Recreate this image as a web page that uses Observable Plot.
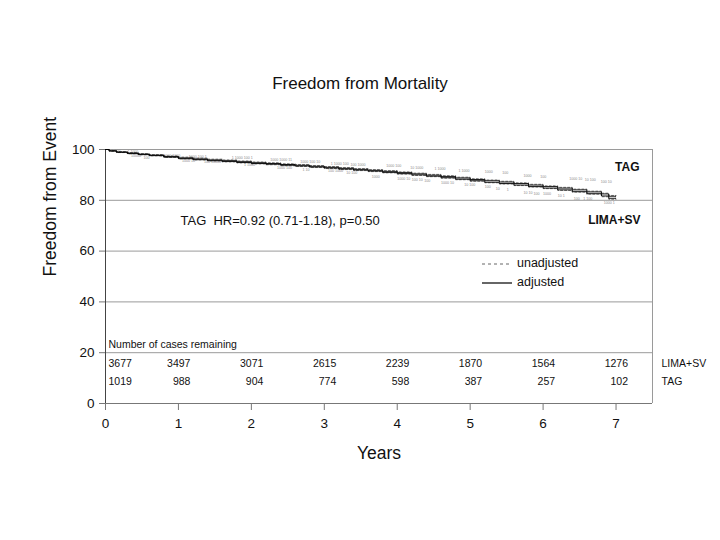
<!DOCTYPE html>
<html>
<head>
<meta charset="utf-8">
<script src="https://cdn.jsdelivr.net/npm/d3@7"></script>
<script src="https://cdn.jsdelivr.net/npm/@observablehq/plot@0.6"></script>
<style>
  html, body { margin: 0; padding: 0; background: #fff; }
  #wrap { position: relative; width: 720px; height: 540px; font-family: "Liberation Sans", Arial, sans-serif; }
  #legend { position: absolute; left: 482px; top: 254px; font-size: 12.5px; color: #111; line-height: 19px; }
  #legend div { display: flex; align-items: center; }
  #legend svg { margin-right: 5px; }
</style>
</head>
<body>
<div id="wrap"></div>
<script>
// ---- data ----
const times = [0,0.05,0.15,0.3,0.45,0.6,0.8,1.0,1.2,1.4,1.6,1.8,2.0,2.2,2.4,2.6,2.8,3.0,3.2,3.4,3.6,3.8,4.0,4.2,4.4,4.6,4.8,5.0,5.2,5.4,5.6,5.8,6.0,6.2,6.4,6.6,6.8,6.9,7.0];
const limaAdj   = [100,99.4,98.9,98.4,98.0,97.6,97.0,96.4,96.0,95.6,95.3,94.9,94.5,94.2,93.8,93.5,93.1,92.7,92.3,91.9,91.5,91.0,90.5,90.0,89.5,88.9,88.3,87.7,87.1,86.6,86.0,85.4,84.8,84.1,83.4,82.6,81.7,80.8,80.8];
const tagAdj    = [100,99.5,99.0,98.6,98.2,97.8,97.2,96.7,96.3,95.9,95.6,95.2,94.8,94.5,94.1,93.8,93.4,93.0,92.6,92.2,91.8,91.4,90.9,90.4,89.9,89.4,88.8,88.2,87.7,87.2,86.6,86.0,85.4,84.8,84.1,83.3,82.5,81.6,81.6];
const limaUnadj = [100,99.3,98.8,98.3,97.9,97.5,96.9,96.3,95.9,95.5,95.1,94.7,94.3,94.0,93.6,93.3,92.9,92.5,92.1,91.7,91.3,90.8,90.3,89.8,89.3,88.7,88.1,87.5,86.9,86.4,85.8,85.2,84.6,83.9,83.2,82.4,81.4,80.4,80.4];
const tagUnadj  = [100,99.6,99.2,98.8,98.4,98.0,97.5,97.0,96.6,96.2,95.9,95.5,95.1,94.8,94.4,94.1,93.7,93.3,92.9,92.5,92.1,91.7,91.2,90.7,90.2,89.7,89.1,88.5,88.0,87.5,86.9,86.3,85.7,85.1,84.4,83.6,82.8,81.9,81.9];

// censoring labels (tiny)
const cenUpperT = [0.08,0.3,0.75,1.14,1.73,2.26,2.67,3.09,3.36,3.85,4.18,4.51,4.84,5.2,5.44,5.73,5.96,6.36,6.57,6.79];
const cenUpperV = [99.5,98.9,97.6,97.2,96.9,96.1,95.3,94.5,94.1,93.7,92.9,92.5,91.7,91.3,90.9,89.8,89.4,88.6,88.2,87.4];
const cenUpperS = ["1 100","1 1000","1 1000 1000","1000 100 1","1 1000 100 1","1000 1000 11","1000 100 10","1 1000 100","100 1000","1000 100","10 1000","1 1000","1 1000","1000","100","1000","100","1000 10","10 100","100 10"];
const cenLowerT = [0.35,0.52,1.05,1.35,1.9,2.35,2.7,3.05,3.3,3.65,4.0,4.2,4.37,4.6,4.92,5.2,5.35,5.5,5.73,5.87,6.0,6.2,6.42,6.55,6.83];
const cenLowerV = [97.6,96.9,95.6,95.0,93.8,92.9,92.1,91.5,90.8,89.4,88.6,88.2,87.8,87.0,86.2,85.4,84.6,84.3,83.0,82.7,82.7,81.9,80.7,80.7,79.1];
const cenLowerS = ["10000","100","1000 10","100 10000","1 1000","1000 100","1 10","100 1000","10 100","1000","1000 10","100 10","100","1000 10","10 100","100","10","1","10 10","100","1000","10 1","100","1 100","1000 1"];

// numbers at risk
const riskYears = [0,1,2,3,4,5,6,7];
const riskLima  = ["3677","3497","3071","2615","2239","1870","1564","1276"];
const riskTag   = ["1019","988","904","774","598","387","257","102"];

const xTicks = [0,1,2,3,4,5,6,7];
const yTicks = [0,20,40,60,80,100];
const gridY  = [20,40,60,80,100];

// ---- build tables ----
const series = [];
[["LIMA+SV adjusted", limaAdj, "adj"], ["TAG adjusted", tagAdj, "adj"],
 ["LIMA+SV unadjusted", limaUnadj, "unadj"], ["TAG unadjusted", tagUnadj, "unadj"]]
  .forEach(([name, vals, kind]) => times.forEach((t, i) => series.push({name, kind, t, v: vals[i]})));
const cenUp = cenUpperT.map((t, i) => ({t, v: cenUpperV[i], s: cenUpperS[i]}));
const cenLo = cenLowerT.map((t, i) => ({t, v: cenLowerV[i], s: cenLowerS[i]}));
const risk = riskYears.map((t, i) => ({t, lima: riskLima[i], tag: riskTag[i]}));

const font = "Liberation Sans, Arial, sans-serif";

const plot = Plot.plot({
  width: 720, height: 540,
  marginLeft: 105, marginRight: 68, marginTop: 149, marginBottom: 137,
  x: {domain: [0, 7.5]},
  y: {domain: [0, 100]},
  style: {fontFamily: font, fontSize: "13.5px", background: "#fff", color: "#111"},
  marks: [
    Plot.ruleY(gridY, {stroke: "#9a9a9a", strokeWidth: 1}),
    Plot.ruleX([7.5], {stroke: "#9a9a9a", strokeWidth: 1}),
    Plot.ruleY([0], {stroke: "#777", strokeWidth: 1}),
    Plot.ruleX([0], {stroke: "#444", strokeWidth: 1}),
    Plot.axisX({ticks: xTicks, tickSize: 7, tickPadding: 8, label: null, tickFormat: d => String(d), stroke: "#777", fontSize: 13.5}),
    Plot.axisY({ticks: yTicks, tickSize: 6, tickPadding: 5, label: null, tickFormat: d => String(d), stroke: "#777", fontSize: 13.5}),
    // censoring labels
    Plot.text(cenUp, {x: "t", y: "v", text: "s", fontSize: 3.6, fill: "#8a8a8a", textAnchor: "start"}),
    Plot.text(cenLo, {x: "t", y: "v", text: "s", fontSize: 3.6, fill: "#8a8a8a", textAnchor: "start"}),
    // survival curves
    Plot.line(series.filter(d => d.kind === "unadj"), {x: "t", y: "v", z: "name", curve: "step-after", stroke: "#555", strokeWidth: 0.8, strokeDasharray: "2,2"}),
    Plot.line(series.filter(d => d.kind === "adj"), {x: "t", y: "v", z: "name", curve: "step-after", stroke: "#000", strokeWidth: 0.9}),
    // group labels
    Plot.text(["TAG"], {frameAnchor: "top-right", dx: -13, dy: 13, fontWeight: "bold", fontSize: 12, textAnchor: "end"}),
    Plot.text(["LIMA+SV"], {frameAnchor: "top-right", dx: -12, dy: 66, fontWeight: "bold", fontSize: 12, textAnchor: "end"}),
    // hazard ratio annotation
    Plot.text(["TAG  HR=0.92 (0.71-1.18), p=0.50"], {frameAnchor: "top-left", dx: 75, dy: 66, fontSize: 13, textAnchor: "start"}),
    // number at risk table
    Plot.text(["Number of cases remaining"], {frameAnchor: "bottom-left", dx: 3, dy: -56, fontSize: 10.5, textAnchor: "start"}),
    Plot.text(risk.filter(d => d.t === 0), {x: "t", y: 15.7, text: "lima", fontSize: 10.5, textAnchor: "start", dx: 3}),
    Plot.text(risk.filter(d => d.t > 0), {x: "t", y: 15.7, text: "lima", fontSize: 10.5, textAnchor: "end", dx: 12}),
    Plot.text(risk.filter(d => d.t === 0), {x: "t", y: 8.7, text: "tag", fontSize: 10.5, textAnchor: "start", dx: 3}),
    Plot.text(risk.filter(d => d.t > 0), {x: "t", y: 8.7, text: "tag", fontSize: 10.5, textAnchor: "end", dx: 12}),
    Plot.text(["LIMA+SV"], {x: 7.5, y: 15.7, dx: 9, fontSize: 10.5, textAnchor: "start"}),
    Plot.text(["TAG"], {x: 7.5, y: 8.7, dx: 9, fontSize: 10.5, textAnchor: "start"}),
    // titles
    Plot.text(["Freedom from Mortality"], {frameAnchor: "top", dx: -19, dy: -73, fontSize: 17}),
    Plot.text(["Years"], {frameAnchor: "bottom", dy: 55, fontSize: 17.5}),
    Plot.text(["Freedom from Event"], {frameAnchor: "left", dx: -55, rotate: -90, fontSize: 17.5})
  ]
});
const wrap = document.getElementById("wrap");
wrap.appendChild(plot);

// legend overlay
const legend = document.createElement("div");
legend.id = "legend";
legend.innerHTML =
  '<div><svg width="30" height="8"><line x1="0" y1="4" x2="30" y2="4" stroke="#555" stroke-width="0.9" stroke-dasharray="3,3"/></svg>unadjusted</div>' +
  '<div><svg width="30" height="8"><line x1="0" y1="4" x2="30" y2="4" stroke="#000" stroke-width="1.2"/></svg>adjusted</div>';
wrap.appendChild(legend);
</script>
</body>
</html>
